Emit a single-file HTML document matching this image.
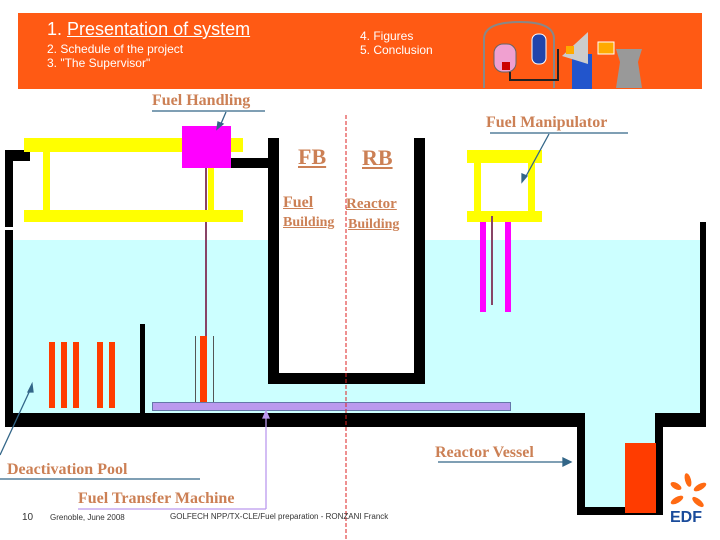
<!DOCTYPE html>
<html><head><meta charset="utf-8"><style>
body{margin:0;width:720px;height:540px;position:relative;overflow:hidden;background:#fff;font-family:"Liberation Sans",sans-serif}
.a{position:absolute}
.lb{position:absolute;font-family:"Liberation Serif",serif;font-weight:bold;color:#cc8055;font-size:16px;white-space:nowrap}
.h{position:absolute;color:#fff;white-space:nowrap}
</style></head><body>
<div class="a" style="left:18px;top:13px;width:684px;height:76px;background:#ff5a14"></div>
<div class="h" style="left:47px;top:19px;font-size:18px">1. <u>Presentation of system</u></div>
<div class="h" style="left:47px;top:42px;font-size:12px">2. Schedule of the project</div>
<div class="h" style="left:47px;top:56px;font-size:12px">3. "The Supervisor"</div>
<div class="h" style="left:360px;top:29px;font-size:12px">4. Figures</div>
<div class="h" style="left:360px;top:43px;font-size:12px">5. Conclusion</div>
<svg class="a" style="left:480px;top:14px" width="170" height="75">
<path d="M4 74 V25 Q4 8 40 8 Q74 8 74 25 V74" fill="none" stroke="#888" stroke-width="2"/>
<rect x="14" y="30" width="22" height="28" rx="9" fill="#f0a0d0" stroke="#666"/>
<rect x="22" y="48" width="8" height="8" fill="#c00"/>
<rect x="52" y="20" width="14" height="30" rx="6" fill="#2244aa" stroke="#fff"/>
<rect x="92" y="40" width="20" height="35" fill="#2255cc"/>
<polygon points="82,42 108,18 108,50" fill="#ccc"/>
<rect x="118" y="28" width="16" height="12" fill="#ffaa00" stroke="#fff"/>
<polygon points="136,35 162,35 158,48 162,74 136,74 140,48" fill="#999"/>
<path d="M30 58 V66 H78 V35" fill="none" stroke="#222" stroke-width="2"/>
<rect x="86" y="32" width="8" height="8" fill="#ffaa00"/>
</svg>
<div class="a" style="left:10px;top:240px;width:692px;height:175px;background:#ccffff"></div>
<div class="a" style="left:582px;top:413px;width:76px;height:100px;background:#ccffff"></div>
<div class="a" style="left:5px;top:150px;width:25px;height:11px;background:#000"></div>
<div class="a" style="left:5px;top:150px;width:8px;height:77px;background:#000"></div>
<div class="a" style="left:5px;top:230px;width:8px;height:197px;background:#000"></div>
<div class="a" style="left:5px;top:413px;width:577px;height:14px;background:#000"></div>
<div class="a" style="left:577px;top:413px;width:8px;height:102px;background:#000"></div>
<div class="a" style="left:577px;top:507px;width:84px;height:8px;background:#000"></div>
<div class="a" style="left:655px;top:413px;width:8px;height:102px;background:#000"></div>
<div class="a" style="left:655px;top:413px;width:51px;height:14px;background:#000"></div>
<div class="a" style="left:700px;top:222px;width:6px;height:205px;background:#000"></div>
<div class="a" style="left:268px;top:138px;width:157px;height:246px;background:#000"></div>
<div class="a" style="left:279px;top:138px;width:135px;height:235px;background:#fff"></div>
<div class="a" style="left:140px;top:324px;width:5px;height:90px;background:#000"></div>
<div class="a" style="left:231px;top:158px;width:37px;height:10px;background:#000"></div>
<div class="a" style="left:49px;top:342px;width:6px;height:66px;background:#ff3c00"></div>
<div class="a" style="left:61px;top:342px;width:6px;height:66px;background:#ff3c00"></div>
<div class="a" style="left:73px;top:342px;width:6px;height:66px;background:#ff3c00"></div>
<div class="a" style="left:97px;top:342px;width:6px;height:66px;background:#ff3c00"></div>
<div class="a" style="left:109px;top:342px;width:6px;height:66px;background:#ff3c00"></div>
<div class="a" style="left:195px;top:336px;width:1px;height:67px;background:#555"></div>
<div class="a" style="left:213px;top:336px;width:1px;height:67px;background:#555"></div>
<div class="a" style="left:200px;top:336px;width:7px;height:67px;background:#ff3c00"></div>
<div class="a" style="left:205px;top:168px;width:2px;height:168px;background:#884466"></div>
<div class="a" style="left:152px;top:402px;width:357px;height:7px;background:#bb99ee;border:1px solid #6677aa"></div>
<div class="a" style="left:625px;top:443px;width:31px;height:70px;background:#ff3c00"></div>
<div class="a" style="left:24px;top:138px;width:219px;height:14px;background:#ffff00"></div>
<div class="a" style="left:24px;top:210px;width:219px;height:12px;background:#ffff00"></div>
<div class="a" style="left:43px;top:152px;width:7px;height:58px;background:#ffff00"></div>
<div class="a" style="left:208px;top:152px;width:6px;height:58px;background:#ffff00"></div>
<div class="a" style="left:182px;top:126px;width:49px;height:42px;background:#ff00ff"></div>
<div class="a" style="left:205px;top:168px;width:2px;height:42px;background:#884466"></div>
<div class="a" style="left:467px;top:150px;width:75px;height:13px;background:#ffff00"></div>
<div class="a" style="left:467px;top:211px;width:75px;height:11px;background:#ffff00"></div>
<div class="a" style="left:474px;top:163px;width:7px;height:48px;background:#ffff00"></div>
<div class="a" style="left:528px;top:163px;width:7px;height:48px;background:#ffff00"></div>
<div class="a" style="left:480px;top:222px;width:6px;height:90px;background:#ff00ff"></div>
<div class="a" style="left:505px;top:222px;width:6px;height:90px;background:#ff00ff"></div>
<div class="a" style="left:491px;top:216px;width:2px;height:89px;background:#884466"></div>
<svg class="a" style="left:0;top:0" width="720" height="540">
<line x1="346" y1="115" x2="346" y2="540" stroke="#dd2222" stroke-dasharray="4,2" stroke-width="1"/>
<g stroke="#336688" stroke-width="1.3" fill="#336688">
<line x1="152" y1="111" x2="265" y2="111"/><line x1="226" y1="112" x2="220" y2="126"/><polygon points="217,129 218,122 223,124"/>
<line x1="490" y1="133" x2="628" y2="133"/><line x1="549" y1="134" x2="525" y2="178"/><polygon points="522,182 522,174 527,176"/>
<line x1="438" y1="462" x2="565" y2="462"/><polygon points="571,462 563,458 563,466"/>
<line x1="0" y1="479" x2="200" y2="479"/><line x1="0" y1="455" x2="31" y2="388"/><polygon points="32,384 28,392 33,392"/>
</g>
<g stroke="#bb99ee" stroke-width="1.3" fill="#bb99ee">
<line x1="78" y1="509" x2="266" y2="509"/><line x1="266" y1="509" x2="266" y2="416"/><polygon points="266,411 263,418 269,418"/>
</g>
</svg>
<div class="lb" style="left:152px;top:92px">Fuel Handling</div>
<div class="lb" style="left:486px;top:114px">Fuel Manipulator</div>
<div class="lb" style="left:298px;top:144px;font-size:22px;text-decoration:underline">FB</div>
<div class="lb" style="left:362px;top:145px;font-size:22px;text-decoration:underline">RB</div>
<div class="lb" style="left:283px;top:194px;text-decoration:underline">Fuel</div>
<div class="lb" style="left:283px;top:215px;font-size:14px;text-decoration:underline">Building</div>
<div class="lb" style="left:346px;top:196px;font-size:15px;text-decoration:underline">Reactor</div>
<div class="lb" style="left:348px;top:217px;font-size:14px;text-decoration:underline">Building</div>
<div class="lb" style="left:435px;top:444px">Reactor Vessel</div>
<div class="lb" style="left:7px;top:461px">Deactivation Pool</div>
<div class="lb" style="left:78px;top:490px">Fuel Transfer Machine</div>
<div class="a" style="left:22px;top:512px;font-size:10px;color:#333">10</div>
<div class="a" style="left:50px;top:513px;font-size:8px;color:#333">Grenoble, June 2008</div>
<div class="a" style="left:170px;top:512px;font-size:8px;color:#333;white-space:nowrap">GOLFECH NPP/TX-CLE/Fuel preparation - RONZANI Franck</div>
<svg class="a" style="left:668px;top:472px" width="40" height="52">
<g fill="#ff6a13"><ellipse cx="20" cy="8" rx="3" ry="7" transform="rotate(-15 20 8)"/><ellipse cx="32" cy="15" rx="3" ry="7" transform="rotate(60 32 15)"/><ellipse cx="30" cy="30" rx="3" ry="7" transform="rotate(130 30 30)"/><ellipse cx="9" cy="28" rx="3" ry="7" transform="rotate(-120 9 28)"/><ellipse cx="8" cy="14" rx="3" ry="6" transform="rotate(-60 8 14)"/></g>
<text x="2" y="50" font-family="Liberation Sans" font-weight="bold" font-size="16" fill="#1a4b9b">EDF</text>
</svg>
</body></html>
